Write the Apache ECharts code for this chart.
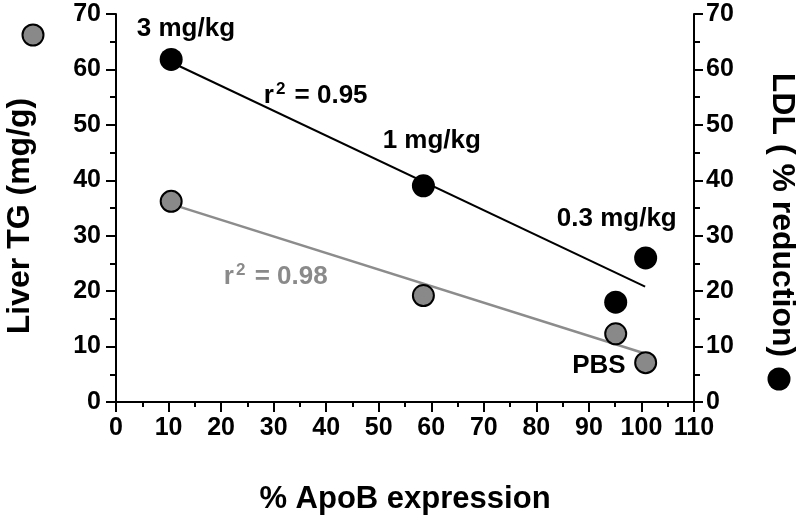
<!DOCTYPE html>
<html>
<head>
<meta charset="utf-8">
<script src="https://cdn.jsdelivr.net/npm/echarts@6/dist/echarts.min.js"></script>
<style>html,body{margin:0;padding:0;background:#fff}#c{width:797px;height:521px}</style>
</head>
<body>
<div id="c"></div>
<script>
// ApoB expression (%) per group: 3 mg/kg, 1 mg/kg, 0.3 mg/kg, PBS
const apoB = [10.5, 58.5, 95.1, 100.8];
const liverTG = [36.2, 19.2, 12.3, 7.1];       // left axis, grey
const ldlReduction = [61.8, 39.0, 18.0, 26.0];  // right axis, black
// regression lines (end points)
const ldlFitX = [10.5, 100.7];
const ldlFitY = [61.3, 20.8];
const tgFitX = [10.5, 100.5];
const tgFitY = [35.7, 8.8];
// tick values
const xTicks = [0, 10, 20, 30, 40, 50, 60, 70, 80, 90, 100, 110];
const yTicks = [0, 10, 20, 30, 40, 50, 60, 70];
// annotations (data coordinates)
const annoBlackText = ['3 mg/kg', '1 mg/kg', '0.3 mg/kg', 'PBS', 'r2 = 0.95'];
const annoBlackX = [13.3, 60.1, 95.3, 91.9, 38.0];
const annoBlackY = [67.3, 47.1, 33.0, 6.5, 55.2];
const annoGreyText = ['r2 = 0.98'];
const annoGreyX = [30.4];
const annoGreyY = [22.5];

const FONT = '"Liberation Sans", Arial, Helvetica, sans-serif';
const chart = echarts.init(document.getElementById('c'), null, {renderer: 'canvas'});

function pairs(xs, ys) { return xs.map((x, i) => [x, ys[i]]); }
function annoData(txt, xs, ys) { return txt.map((t, i) => ({value: [xs[i], ys[i]], name: t})); }
function fmtAnno(p) {
  const n = p.name;
  if (n.startsWith('r2')) return '{t|r}{s|2}{t|' + n.slice(2) + '}';
  return '{t|' + n + '}';
}
function annoLabel(color) {
  return {
    show: true, position: 'inside', formatter: fmtAnno, color: color, opacity: 1,
    textBorderWidth: 0,
    rich: {
      t: {fontFamily: FONT, fontWeight: 'bold', fontSize: 26, color: color, lineHeight: 30},
      s: {fontFamily: FONT, fontWeight: 'bold', fontSize: 17, color: color, verticalAlign: 'top', lineHeight: 30, padding: [0, 2, 12, 2]}
    }
  };
}

const axisLineStyle = {color: '#000', width: 2};
const yAxisCommon = {
  type: 'value', min: yTicks[0], max: yTicks[yTicks.length - 1], interval: 10,
  splitLine: {show: false},
  axisLine: {show: true, lineStyle: axisLineStyle},
  axisTick: {show: true, inside: false, length: 10, lineStyle: {color: '#000', width: 2}},
  minorTick: {show: true, splitNumber: 2, length: 6, lineStyle: {color: '#000', width: 2}},
  nameLocation: 'middle'
};

chart.setOption({
  animation: false,
  backgroundColor: '#fff',
  grid: {left: 116, right: 103, top: 14, bottom: 119, containLabel: false, outerBoundsMode: 'none'},
  xAxis: {
    type: 'value', min: xTicks[0], max: xTicks[xTicks.length - 1], interval: 10,
    splitLine: {show: false},
    axisLine: {show: true, onZero: false, lineStyle: axisLineStyle},
    axisTick: {show: true, inside: false, length: 10, lineStyle: {color: '#000', width: 2}},
    minorTick: {show: true, splitNumber: 2, length: 5, lineStyle: {color: '#000', width: 2}},
    axisLabel: {fontFamily: FONT, fontWeight: 'bold', fontSize: 25, color: '#000', margin: 14},
    name: '% ApoB expression', nameLocation: 'middle', nameGap: 82,
    nameTextStyle: {fontFamily: FONT, fontWeight: 'bold', fontSize: 31, color: '#000'}
  },
  yAxis: [
    Object.assign({}, yAxisCommon, {
      position: 'left',
      axisLabel: {fontFamily: FONT, fontWeight: 'bold', fontSize: 25, color: '#000', margin: 15},
      name: 'Liver TG (mg/g)', nameRotate: 90, nameGap: 80,
      nameTextStyle: {fontFamily: FONT, fontWeight: 'bold', fontSize: 32, color: '#000', padding: [0, 16, 0, 0]}
    }),
    Object.assign({}, yAxisCommon, {
      position: 'right',
      axisTick: {show: true, inside: false, length: 9, lineStyle: {color: '#000', width: 2}},
      axisLabel: {fontFamily: FONT, fontWeight: 'bold', fontSize: 25, color: '#000', margin: 12},
      name: 'LDL ( % reduction)', nameRotate: -90, nameGap: 72,
      nameTextStyle: {fontFamily: FONT, fontWeight: 'bold', fontSize: 32, color: '#000', padding: [0, 0, 0, 14]}
    })
  ],
  series: [
    {
      type: 'line', yAxisIndex: 1, data: pairs(ldlFitX, ldlFitY), showSymbol: false, symbol: 'none',
      lineStyle: {color: '#000', width: 2}, z: 2, silent: true
    },
    {
      type: 'line', yAxisIndex: 0, data: pairs(tgFitX, tgFitY), showSymbol: false, symbol: 'none',
      lineStyle: {color: '#8c8c8c', width: 2.5}, z: 2, silent: true
    },
    {
      type: 'scatter', yAxisIndex: 0, data: pairs(apoB, liverTG), symbol: 'circle', symbolSize: 21,
      itemStyle: {color: '#898989', borderColor: '#000', borderWidth: 2, opacity: 1}, z: 5
    },
    {
      type: 'scatter', yAxisIndex: 1, data: pairs(apoB, ldlReduction), symbol: 'circle', symbolSize: 23,
      itemStyle: {color: '#000', opacity: 1}, z: 5
    },
    {
      type: 'scatter', yAxisIndex: 1, data: annoData(annoBlackText, annoBlackX, annoBlackY),
      symbolSize: 0, itemStyle: {opacity: 1}, label: annoLabel('#000'), z: 6, silent: true
    },
    {
      type: 'scatter', yAxisIndex: 0, data: annoData(annoGreyText, annoGreyX, annoGreyY),
      symbolSize: 0, itemStyle: {opacity: 1}, label: annoLabel('#8a8a8a'), z: 6, silent: true
    }
  ],
  graphic: [
    {type: 'circle', shape: {cx: 33, cy: 35, r: 10.5}, style: {fill: '#898989', stroke: '#000', lineWidth: 2}},
    {type: 'circle', shape: {cx: 779, cy: 379, r: 11.5}, style: {fill: '#000'}}
  ]
});
</script>
</body>
</html>
